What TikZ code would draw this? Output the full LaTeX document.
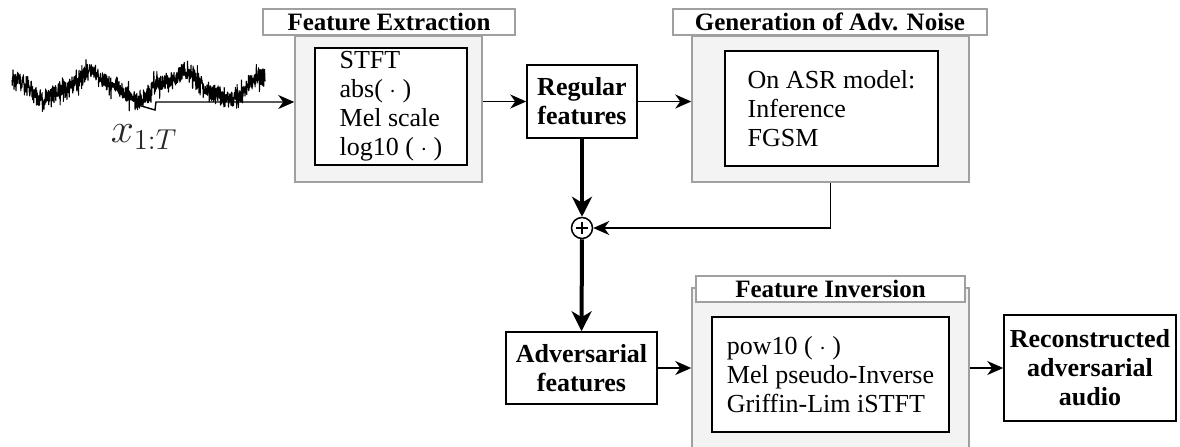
\documentclass[tikz,border=0pt]{standalone}
\usepackage[no-math]{fontspec}
\setmainfont{Liberation Serif}
\usetikzlibrary{arrows.meta, positioning}
\definecolor{grisMarco}{RGB}{160,160,160}
\definecolor{grisFondo}{RGB}{243,243,243}
\tikzset{
  pl/outer/.style={rectangle, draw=grisMarco, fill=grisFondo, line width=0.75pt},
  pl/title/.style={rectangle, draw=grisMarco, fill=white, line width=0.75pt,
    font=\fontsize{12.5}{14}\selectfont\bfseries, inner sep=0pt,
    minimum height=13pt},
  pl/inner/.style={rectangle, draw=black, fill=white, line width=0.75pt,
    font=\fontsize{13}{14.5}\selectfont, align=left, inner sep=0pt},
  pl/box/.style={rectangle, draw=black, fill=white, line width=0.75pt,
    font=\fontsize{13}{14.5}\selectfont\bfseries, align=center, inner sep=0pt},
  pl/sum/.style={circle, draw=black, fill=white, line width=0.75pt,
    minimum size=10.5pt, inner sep=0pt,
    path picture={\draw[line width=0.6pt]
      ([xshift=-2.8pt]path picture bounding box.center) --
      ([xshift=2.8pt]path picture bounding box.center)
      ([yshift=-2.8pt]path picture bounding box.center) --
      ([yshift=2.8pt]path picture bounding box.center);}},
  pl/arr/.style={-{Stealth[length=8pt,width=7pt,inset=2.5pt]}, line width=0.7pt},
  pl/thick/.style={-{Stealth[length=10pt,width=10pt,inset=3pt]}, line width=2pt}
}

\begin{document}
\begin{tikzpicture}[x=0.5pt, y=-0.5pt]
  \useasboundingbox (0,0) rectangle (1180,446);

  % senal de entrada
  \pgfmathsetseed{11}
  \draw[line width=0.55pt, line join=round]
    plot[domain=12:265, samples=1000]
    (\x, {86+12*sin(4*(\x-114.5))+3*sin(11*\x)+8*rand+16*rand*rand*rand});
  \node[font=\fontsize{20}{24}\selectfont, text=black!85] at (144, 137) (xin) {$x_{1:T}$};
  \coordinate (wavetap) at (138, 105);
  \coordinate (kink) at (156, 102);

  % bloques
  \node[pl/outer, minimum width=93.5pt, minimum height=73pt] at (388.5, 109) (fe) {};
  \node[pl/title, minimum width=126pt] at (389, 22) (fetitle) {Feature Extraction};
  \node[pl/inner, minimum width=76pt, minimum height=58.5pt] at (391, 106.5) (feop)
        {STFT\\abs( $\cdot$ )\\Mel scale\\log10 ( $\cdot$ )};

  \node[pl/box, minimum width=55pt, minimum height=36.5pt] at (582, 101.5) (rf)
        {Regular\\features};

  \node[pl/outer, minimum width=138.5pt, minimum height=73pt] at (830.5, 109) (gen) {};
  \node[pl/title, minimum width=157pt] at (830, 22) (gentitle) {Generation of Adv. Noise};
  \node[pl/inner, minimum width=106.5pt, minimum height=57.5pt] at (831.5, 108.5) (genop)
        {On ASR model:\\Inference\\FGSM};

  \node[pl/sum] at (582, 228) (sum) {};

  \node[pl/box, minimum width=75.5pt, minimum height=36pt] at (581.5, 368) (af)
        {Adversarial\\features};

  \node[pl/outer, minimum width=138.5pt, minimum height=91pt] at (830.5, 379) (fi) {};
  \node[pl/title, minimum width=134.5pt] at (830.5, 289) (fititle) {Feature Inversion};
  \node[pl/inner, minimum width=118.5pt, minimum height=57.5pt] at (830.5, 374.5) (fiop)
        {pow10 ( $\cdot$ )\\Mel pseudo-Inverse\\Griffin-Lim iSTFT};

  \node[pl/box, minimum width=86pt, minimum height=53pt] at (1090, 368) (rc)
        {Reconstructed\\adversarial\\audio};

  % conexiones
  \draw[pl/arr] (wavetap) -- (155, 110) -- (kink) -- (kink -| fe.west);
  \draw[pl/arr] (rf -| fe.east) -- (rf.west);
  \draw[pl/arr] (rf.east) -- (rf -| gen.west);
  \draw[pl/thick] (rf.south) -- (sum.north);
  \draw[pl/arr] (gen.south) |- (sum.east);
  \draw[pl/thick] (sum.south) -- (af.north);
  \draw[pl/arr] (af.east) -- (af -| fi.west);
  \draw[pl/arr] (rc -| fi.east) -- (rc.west);
\end{tikzpicture}
\end{document}
